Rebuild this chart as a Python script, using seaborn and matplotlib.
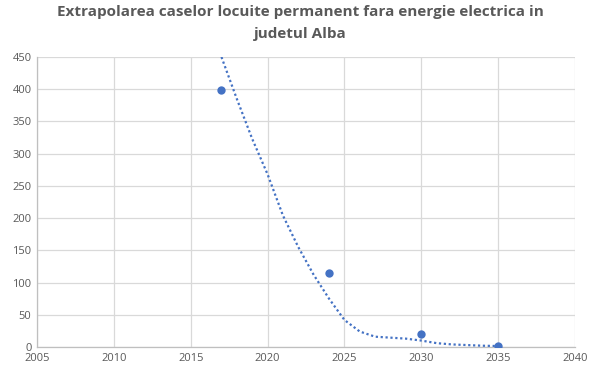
import matplotlib
matplotlib.use("Agg")
import matplotlib.pyplot as plt
import seaborn as sns
import pandas as pd

years = [2017, 2024, 2030, 2035]
houses = [399, 115, 20, 2]

trend_years = [2017, 2018, 2019, 2020, 2021, 2022, 2023, 2024, 2025, 2026,
               2027, 2028, 2029, 2030, 2031, 2032, 2033, 2034, 2035]
trend_values = [450, 385, 323, 268, 204, 155, 112, 75, 42, 24,
                16, 14.5, 13, 10, 6, 4, 3, 2, 1.5]

title = "Extrapolarea caselor locuite permanent fara energie electrica in\njudetul Alba"
x_ticks = [2005, 2010, 2015, 2020, 2025, 2030, 2035, 2040]
y_ticks = [0, 50, 100, 150, 200, 250, 300, 350, 400, 450]

sns.set_theme(style="white")
plt.rcParams['font.family'] = ['Open Sans', 'DejaVu Sans']

fig = plt.figure(figsize=(6, 3.79), dpi=100)
ax = fig.add_axes([0.0617, 0.0844, 0.8966, 0.7652])

blue = "#4472C4"
df_pts = pd.DataFrame({"year": years, "houses": houses})
df_tr = pd.DataFrame({"year": trend_years, "value": trend_values})

sns.lineplot(data=df_tr, x="year", y="value", ax=ax, color=blue,
             linestyle=(0, (1, 1.2)), linewidth=1.6, zorder=3)
sns.scatterplot(data=df_pts, x="year", y="houses", ax=ax, color=blue,
                s=36, edgecolor=blue, linewidth=0, zorder=4)

ax.set_xlim(2005, 2040)
ax.set_ylim(0, 450)
ax.set_xticks(x_ticks)
ax.set_yticks(y_ticks)
ax.set_xlabel("")
ax.set_ylabel("")
ax.grid(True, color="#D9D9D9", linewidth=0.9)
ax.set_axisbelow(True)
for side in ["top", "right"]:
    ax.spines[side].set_visible(False)
for side in ["left", "bottom"]:
    ax.spines[side].set_color("#BFBFBF")
    ax.spines[side].set_linewidth(0.9)
ax.tick_params(axis="both", labelsize=8, colors="#595959", length=0, pad=4)

fig.text(0.5, 0.94, title, ha="center", va="center", fontsize=11,
         fontweight="bold", color="#595959", linespacing=1.75)

fig.savefig("out.png", dpi=100, facecolor="white")
